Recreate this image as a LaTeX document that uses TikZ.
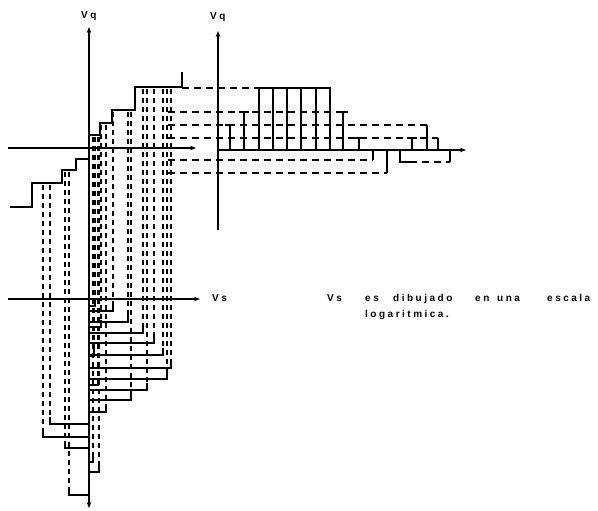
\documentclass[tikz,border=0pt]{standalone}
\usepackage{fontspec}
\newfontfamily\letras[LetterSpace=25]{Liberation Sans}
\usetikzlibrary{arrows.meta}

\begin{document}
\begin{tikzpicture}[
  x=1pt,y=-1pt,>={Stealth[length=6pt,width=4.5pt]},
  axis/.style={line width=1.3pt},
  curve/.style={line width=1.6pt},
  proj/.style={line width=1.4pt,dash pattern=on 7pt off 5pt},
  drop/.style={line width=1.4pt,dash pattern=on 5pt off 4pt},
  lbl/.style={font=\letras\bfseries\fontsize{10}{12}\selectfont,anchor=base west,inner sep=0pt}
]
\useasboundingbox (0,0) rectangle (598,511);
% ejes
\draw[axis,<->] (89,508) -- (89,27);
\draw[axis,->] (8,148) -- (196,148);
\draw[axis,->] (8,299) -- (200,299);
\draw[axis,->] (218,230) -- (218,31);
\draw[axis,->] (218,150) -- (466,150);
\node[lbl] (vq-left) at (81,19) {Vq};
\node[lbl] (vq-right) at (210,20) {Vq};
\node[lbl] (vs-axis) at (212,301) {Vs};
% caracteristica del cuantificador
\draw[curve] (10,207) -- (32,207) -- (32,183) -- (62,183) -- (62,170) -- (76,170)
  -- (76,159) -- (89,159) -- (89,135) -- (100,135) -- (100,123) -- (112,123)
  -- (112,110) -- (135,110) -- (135,87) -- (182,87) -- (182,72);
% proyecciones horizontales
\draw[proj] (182,88) -- (259,88);
\draw[proj] (168,112) -- (343,112);
\draw[proj] (168,125) -- (427,125);
\draw[proj] (168,138) -- (438,138);
\draw[proj] (168,160) -- (373,160);
\draw[proj] (168,173) -- (387,173);
\draw[proj] (410,162) -- (450,162);
% senal cuantificada
\draw[curve] (259,150) -- (259,88) -- (330,88) -- (330,150);
\foreach \bx in {273,287,301,316}
  \draw[curve] (\bx,150) -- (\bx,88);
\foreach \bx/\by in {230/125,244/112,343/112,359/138,412/138}
  \draw[curve] (\bx,150) -- (\bx,\by) (\bx-5,\by) -- (\bx+5,\by);
\draw[curve] (427,125) -- (427,150);
\draw[curve] (438,138) -- (438,150);
\draw[curve] (373,160) -- (373,150);
\draw[curve] (387,173) -- (387,150);
\draw[curve] (410,162) -- (400,162) -- (400,150);
\draw[curve] (450,162) -- (450,150);
% muestras de entrada
\foreach \cx/\ct/\cb in {113/112/311, 128/112/322, 143/89/333, 154/89/343,
    163/89/355, 171/89/368, 167/89/379, 147/89/390, 131/112/400, 106/125/412,
    50/185/424, 43/185/437, 65/172/448, 69/172/495, 95/137/306,
    101/125/327, 94/137/356, 98/137/385, 93/137/462, 99/137/472}
{
  \draw[drop] (\cx,\ct) -- (\cx,\cb-7);
  \draw[curve] (\cx,\cb-7) -- (\cx,\cb) -- (89,\cb);
}
% nota
\node[lbl] (n-vs) at (327,301) {Vs};
\node[lbl] (n-es) at (365,301) {es};
\node[lbl] (n-dib) at (393,301) {dibujado};
\node[lbl] (n-en) at (475,301) {en};
\node[lbl] (n-una) at (497,301) {una};
\node[lbl] (n-esc) at (547,301) {escala};
\node[lbl] (n-log) at (365,317) {logaritmica.};
\end{tikzpicture}
\end{document}
